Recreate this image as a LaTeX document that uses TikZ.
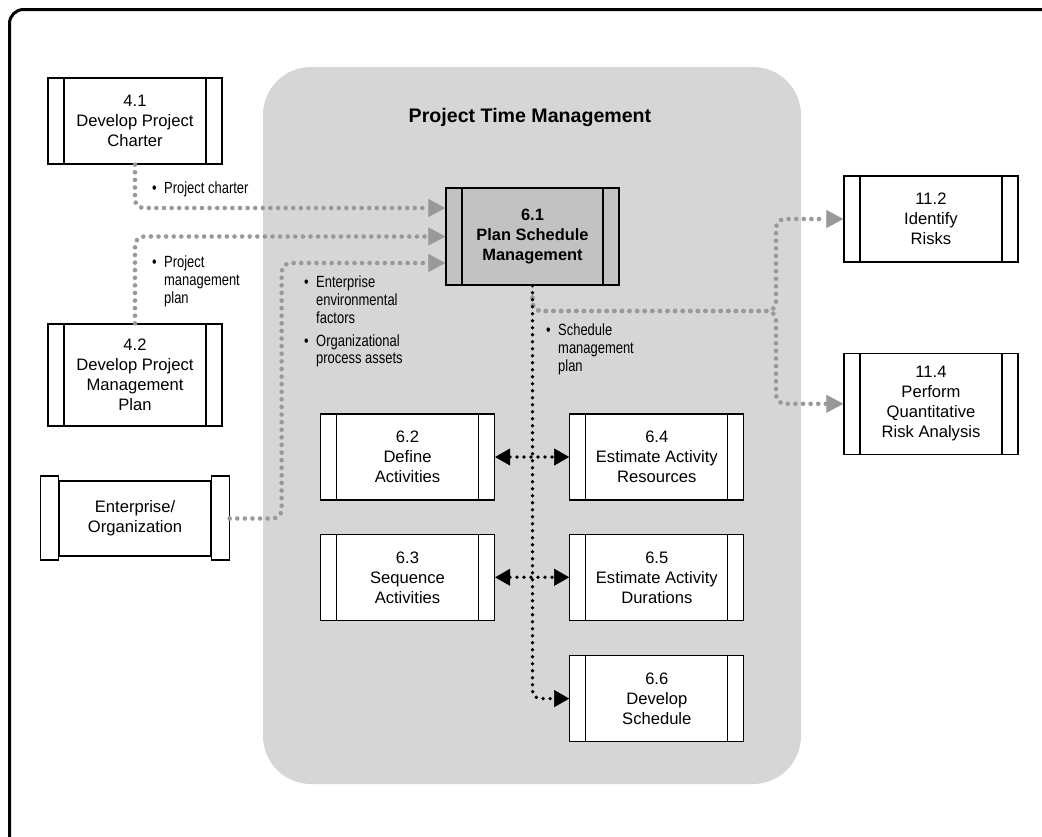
\documentclass[tikz,border=0pt]{standalone}
\usepackage{fontspec}
\setmainfont{Liberation Sans}
\newfontfamily\narrowfont[FakeStretch=0.8]{Liberation Sans}
\usetikzlibrary{positioning,arrows.meta,calc}

\definecolor{regiongray}{HTML}{D6D6D6}
\definecolor{keygray}{HTML}{C2C2C2}
\definecolor{flowgray}{HTML}{999999}

\newcommand{\bul}{\makebox[12pt][l]{\textbullet}}
\newcommand{\ind}{\hspace*{12pt}}

\begin{document}
\begin{tikzpicture}[x=1pt, y=-1pt,
        procbox/.style={rectangle, draw=black, line width=1.3pt, fill=white, minimum width=174pt, minimum height=86pt, inner sep=0pt, align=center, font=\fontsize{16.6}{20}\selectfont,
          path picture={\draw[line width=1.3pt] ([xshift=16pt]path picture bounding box.north west) -- ([xshift=16pt]path picture bounding box.south west) ([xshift=-16pt]path picture bounding box.north east) -- ([xshift=-16pt]path picture bounding box.south east);}},
        keybox/.style={procbox, fill=keygray, minimum width=173pt, minimum height=97pt, font=\bfseries\fontsize{16.4}{20}\selectfont},
        entbox/.style={rectangle, draw=black, line width=1.3pt, fill=white, minimum width=152pt, minimum height=75pt, inner sep=0pt, align=center, font=\fontsize{16.6}{20}\selectfont},
        endbar/.style={draw=black, line width=1.3pt, fill=white},
        title/.style={font=\bfseries\fontsize{19.6}{22}\selectfont},
        lbl/.style={font=\narrowfont\fontsize{16.2}{17.7}\selectfont, align=left, inner sep=0pt, anchor=north west},
        flowtip/.tip={Triangle[length=17pt, width=18pt, line width=0.5pt]},
        blacktip/.tip={Triangle[length=15pt, width=17pt, line width=0.5pt]},
        flow/.style={draw=flowgray, line width=4.6pt, line cap=round, dash pattern=on 0pt off 7.6pt, rounded corners=9pt, -{flowtip}},
        bflow/.style={draw=black, line width=3.8pt, line cap=round, dash pattern=on 0pt off 7pt, rounded corners=8pt},
      ]
      \useasboundingbox (0,0) rectangle (1042,836);
      \clip (0,0) rectangle (1042,836);
      % frame and process group
      \draw [line width=3pt, rounded corners=14pt] (9.5,9.5) rectangle (1100,900);
      \fill [regiongray, rounded corners=48pt] (263,67) rectangle (801,784);
      \node [title] (ptm) at (530,117) {Project Time Management};
      % Inputs
      \node [procbox] (charter) at (135,121) {4.1\\Develop Project\\Charter};
      \node [procbox, minimum height=102pt] (pmplan) at (135,375) {4.2\\Develop Project\\Management\\Plan};
      \node [entbox] (enterprise) at (135,518.5) {Enterprise/\\Organization};
      \draw [endbar] ([yshift=4.5pt]enterprise.north west) rectangle ++(-18,84);
      \draw [endbar] ([yshift=4.5pt]enterprise.north east) rectangle ++(18,84);
      % Time management processes
      \node [keybox] (plansched) at (532.5,236.5) {6.1\\Plan Schedule\\Management};
      \node [procbox] (defact) at (407.5,457) {6.2\\Define\\Activities};
      \node [procbox, below=33pt of defact] (seqact) {6.3\\Sequence\\Activities};
      \node [procbox, right=74pt of defact] (estres) {6.4\\Estimate Activity\\Resources};
      \node [procbox, below=33pt of estres] (estdur) {6.5\\Estimate Activity\\Durations};
      \node [procbox, below=34pt of estdur] (devsched) {6.6\\Develop\\Schedule};
      % Outputs
      \node [procbox] (idrisk) at (931,219) {11.2\\Identify\\Risks};
      \node [procbox, minimum height=101pt, below=90pt of idrisk] (quantrisk) {11.4\\Perform\\Quantitative\\Risk Analysis};
      \coordinate (split) at (776,311);
      % Labels
      \node [lbl] (lcharter) at (152,182) {\bul Project charter};
      \node [lbl] (lpmplan) at (152,256) {\bul Project\\\ind management\\\ind plan};
      \node [lbl] (leef) at (304,276) {\bul Enterprise\\\ind environmental\\\ind factors\\[5pt]\bul Organizational\\\ind process assets};
      \node [lbl] (lsmp) at (546,324) {\bul Schedule\\\ind management\\\ind plan};
      % Connectors
      \draw [flow] (charter.south) |- ([yshift=28.5pt]plansched.west);
      \draw [flow] (pmplan.north) |- (plansched.west);
      \draw [flow] ([xshift=18pt]enterprise.east) -- ++(52,0) |- ([yshift=-26.5pt]plansched.west);
      \draw [flow] ([yshift=-12pt]plansched.south) |- (split) |- (idrisk.west);
      \draw [flow] ([yshift=-12pt]plansched.south) |- (split) |- (quantrisk.west);
      \draw [bflow, -{blacktip}] (plansched.south) |- (devsched.west);
      \draw [bflow, rounded corners=0pt, {blacktip}-{blacktip}] (defact.east) -- (estres.west);
      \draw [bflow, rounded corners=0pt, {blacktip}-{blacktip}] (seqact.east) -- (estdur.west);
    \end{tikzpicture}
\end{document}
